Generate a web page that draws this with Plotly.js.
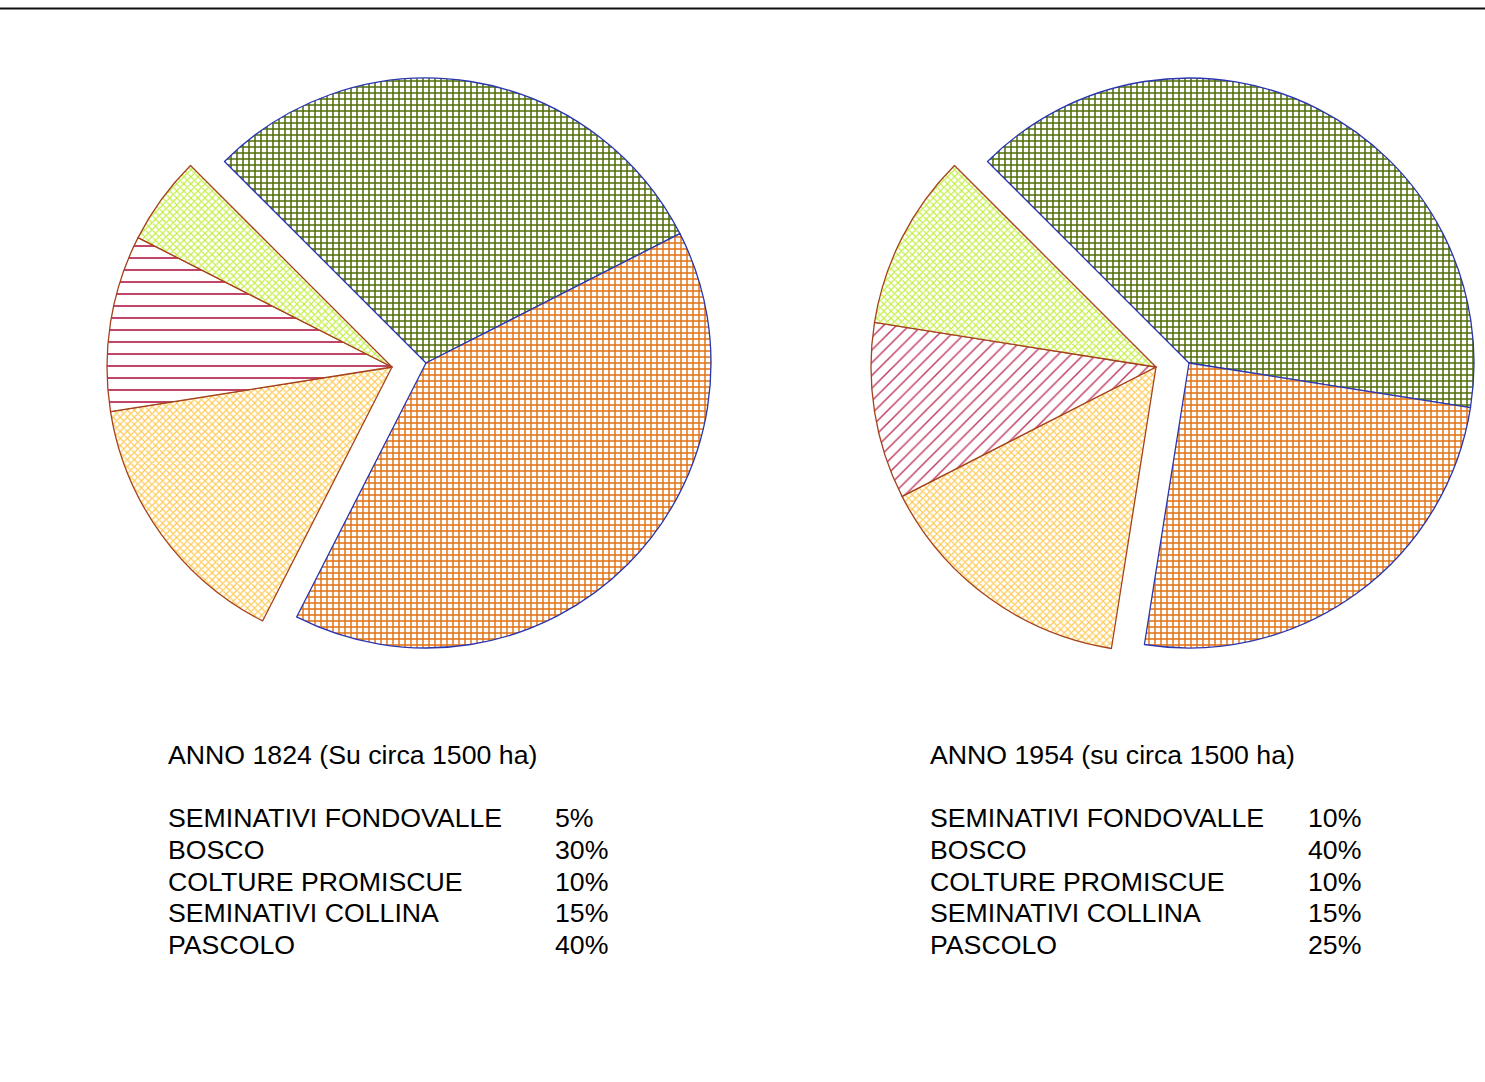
<!DOCTYPE html>
<html>
<head>
<meta charset="utf-8">
<script src="https://cdn.plot.ly/plotly-3.0.1.min.js"></script>
<style>html,body{margin:0;padding:0;background:#fff;}#chart{width:1485px;height:1082px;}</style>
</head>
<body>
<div id="chart"></div>
<script>
// ---- data ----
const categories = ["SEMINATIVI FONDOVALLE", "BOSCO", "COLTURE PROMISCUE", "SEMINATIVI COLLINA", "PASCOLO"];
const values1824 = [5, 30, 10, 15, 40];
const values1954 = [10, 40, 10, 15, 25];
const percentLabels1824 = ["5%", "30%", "10%", "15%", "40%"];
const percentLabels1954 = ["10%", "40%", "10%", "15%", "25%"];
const title1824 = "ANNO 1824 (Su circa 1500 ha)";
const title1954 = "ANNO 1954 (su circa 1500 ha)";
// clockwise order in which slices are drawn (indices into categories)
const sliceOrder = [1, 4, 3, 2, 0];
// slices belonging to the main (not detached) group
const mainGroup = ["BOSCO", "PASCOLO"];

// ---- styles ----
const W = 1485, H = 1082, R = 285;
const styles = {
  "BOSCO": {shape: "+", fg: "#4f6e08", size: 6, sol: 0.45, line: "#2a36b0"},
  "PASCOLO": {shape: "+", fg: "#e07010", size: 6, sol: 0.42, line: "#2a36b0"},
  "SEMINATIVI COLLINA": {shape: "x", fg: "#ffc850", size: 5, sol: 0.4, line: "#a5421c"},
  "SEMINATIVI FONDOVALLE": {shape: "x", fg: "#c2ee40", size: 5, sol: 0.4, line: "#a5421c"},
  "COLTURE PROMISCUE": {shape: "-", fg: "#c03c62", size: 12, sol: 0.16, line: "#a5421c"}
};

function domainFor(cx, cy) {
  return {x: [(cx - R) / W, (cx + R) / W], y: [1 - (cy + R) / H, 1 - (cy - R) / H]};
}

function makeTrace(values, group, cx, cy, promiscueShape, promiscueSize) {
  const labels = sliceOrder.map(i => categories[i]);
  const vals = sliceOrder.map(i => values[i]);
  const inGroup = labels.map(l => group === "main" ? mainGroup.includes(l) : !mainGroup.includes(l));
  const st = labels.map(l => {
    const s = Object.assign({}, styles[l]);
    if (l === "COLTURE PROMISCUE") { s.shape = promiscueShape; s.size = promiscueSize; }
    return s;
  });
  return {
    type: "pie",
    labels: labels,
    values: vals,
    sort: false,
    direction: "clockwise",
    rotation: -45,
    textinfo: "none",
    hoverinfo: "none",
    showlegend: false,
    domain: domainFor(cx, cy),
    marker: {
      colors: inGroup.map(g => g ? "#ffffff" : "rgba(0,0,0,0)"),
      line: {
        color: st.map((s, k) => inGroup[k] ? s.line : "rgba(0,0,0,0)"),
        width: inGroup.map(g => g ? 1.3 : 0)
      },
      pattern: {
        shape: st.map((s, k) => inGroup[k] ? s.shape : ""),
        fgcolor: st.map(s => s.fg),
        size: st.map(s => s.size),
        solidity: st.map(s => s.sol),
        fillmode: "replace"
      }
    }
  };
}

const data = [
  makeTrace(values1824, "main", 426, 363, "-", 12),
  makeTrace(values1824, "side", 392, 367, "-", 12),
  makeTrace(values1954, "main", 1189, 363, "/", 9),
  makeTrace(values1954, "side", 1156, 367, "/", 9)
];

// ---- text annotations ----
const annotations = [];
const font = {family: "Liberation Sans, Arial, sans-serif", size: 26.7, color: "#000"};
function addBlock(title, labels, x0, xp) {
  annotations.push({text: title, x: x0 / W, y: 1 - 755 / H, xref: "paper", yref: "paper",
    xanchor: "left", yanchor: "middle", showarrow: false, font: font});
  const rows = [818, 850, 882, 913, 945];
  categories.forEach((c, i) => {
    annotations.push({text: c, x: x0 / W, y: 1 - rows[i] / H, xref: "paper", yref: "paper",
      xanchor: "left", yanchor: "middle", showarrow: false, font: font});
    annotations.push({text: labels[i], x: xp / W, y: 1 - rows[i] / H, xref: "paper", yref: "paper",
      xanchor: "left", yanchor: "middle", showarrow: false, font: font});
  });
}
addBlock(title1824, percentLabels1824, 166, 553);
addBlock(title1954, percentLabels1954, 928, 1306);

const layout = {
  width: W, height: H,
  margin: {l: 0, r: 0, t: 0, b: 0},
  paper_bgcolor: "#ffffff",
  plot_bgcolor: "#ffffff",
  annotations: annotations,
  shapes: [{type: "line", xref: "paper", yref: "paper", x0: 0, x1: 1, y0: 1 - 8.5 / H, y1: 1 - 8.5 / H,
    line: {color: "#111111", width: 2}}]
};

Plotly.newPlot("chart", data, layout, {displayModeBar: false, staticPlot: true});
</script>
</body>
</html>
